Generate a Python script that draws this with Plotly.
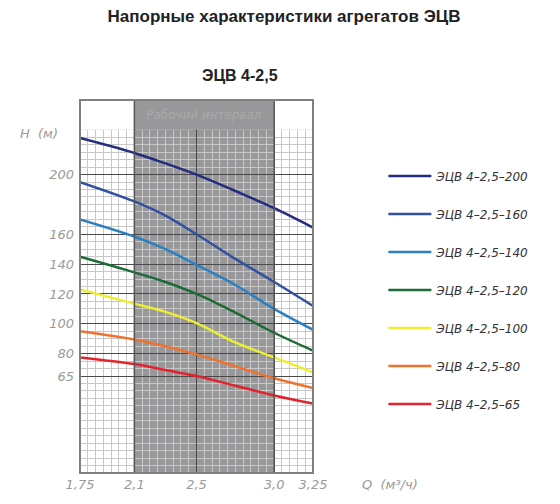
# -*- coding: utf-8 -*-
import plotly.graph_objs as go

# Подача, м3/ч
q = [1.75, 2.1, 2.3, 2.5, 2.75, 3.0, 3.25]

# Напор, м
h200 = [224.5, 214.5, 207.5, 200, 189, 177.5, 164.5]
h160 = [195, 182, 172.5, 160, 143.5, 128, 112]
h140 = [170, 158.5, 150, 139.5, 126, 110, 96]
h120 = [145, 134.5, 128, 120, 107.5, 94, 82]
h100 = [123, 113.5, 108, 100.5, 87.5, 77.5, 67.5]
h80 = [95, 89.5, 85, 79.5, 71.5, 63.5, 57]
h65 = [77.5, 73, 69, 65, 58.5, 52, 46.5]

nazvanija = ["ЭЦВ 4–2,5–200", "ЭЦВ 4–2,5–160", "ЭЦВ 4–2,5–140", "ЭЦВ 4–2,5–120",
             "ЭЦВ 4–2,5–100", "ЭЦВ 4–2,5–80", "ЭЦВ 4–2,5–65"]
krivye = [h200, h160, h140, h120, h100, h80, h65]
cveta = ["#232c7e", "#3050a0", "#2b80c4", "#1b6b36", "#eeee30", "#f07230", "#e2232b"]

x_tiki = [1.75, 2.1, 2.5, 3.0, 3.25]
x_podpisi = ["1,75", "2,1", "2,5", "3,0", "3,25"]
y_tiki = [65, 80, 100, 120, 140, 160, 200]

interval = [2.1, 3.0]   # рабочий интервал
setka_verh = 230
y_max = 250

seryj = "#98989a"
font_it = dict(family="DejaVu Sans", size=13, color="#9a9a9a", style="italic")

data = []
for i in range(len(krivye)):
    data.append(go.Scatter(x=q, y=krivye[i], name=nazvanija[i], mode="lines",
                           line=dict(color=cveta[i], width=2.5, shape="spline"),
                           legendgroup=str(i)))

fig = go.Figure(data=data)

# Серая полоса рабочего интервала (под сеткой)
fig.add_shape(type="rect", xref="x", yref="y", x0=interval[0], x1=interval[1], y0=0, y1=y_max,
              fillcolor=seryj, line=dict(width=0), layer="below")

# Верхняя полоса без сетки
fig.add_shape(type="rect", xref="x", yref="y", x0=x_tiki[0], x1=interval[0], y0=setka_verh, y1=y_max,
              fillcolor="white", line=dict(width=0), layer="above")
fig.add_shape(type="rect", xref="x", yref="y", x0=interval[1], x1=x_tiki[-1], y0=setka_verh, y1=y_max,
              fillcolor="white", line=dict(width=0), layer="above")
fig.add_shape(type="rect", xref="x", yref="y", x0=interval[0], x1=interval[1], y0=setka_verh, y1=y_max,
              fillcolor=seryj, line=dict(width=0), layer="above")
for xv in interval:
    fig.add_shape(type="line", xref="x", yref="y", x0=xv, x1=xv, y0=0, y1=y_max,
                  line=dict(color="#555555", width=1.5), layer="above")

# Рамка
fig.add_shape(type="rect", xref="paper", yref="paper", x0=0, x1=1, y0=0, y1=1,
              line=dict(color="#808080", width=2), layer="above")

fig.add_annotation(x=(interval[0] + interval[1]) / 2, y=(setka_verh + y_max) / 2, xref="x", yref="y",
                   text="Рабочий интервал", showarrow=False,
                   font=dict(family="DejaVu Sans", size=12, color="#a9a9a9", style="italic"))
fig.add_annotation(x=-0.085, y=227.5, xref="paper", yref="y", text="H  (м)", showarrow=False,
                   xanchor="right", font=font_it)
fig.add_annotation(x=1.2, y=0, xref="paper", yref="paper", yshift=-11, text="Q  (м³/ч)",
                   showarrow=False, xanchor="left", yanchor="middle", font=font_it)
fig.add_annotation(x=0.86, y=1.065, xref="paper", yref="paper", text="<b>ЭЦВ 4-2,5</b>",
                   showarrow=False, yanchor="middle",
                   font=dict(family="Liberation Sans", size=16, color="#222222"))

fig.update_layout(
    width=552, height=496,
    margin=dict(l=72, r=247, t=92, b=17),
    paper_bgcolor="white", plot_bgcolor="white",
    title=dict(text="<b>Напорные характеристики агрегатов ЭЦВ</b>", x=0.5, xanchor="center",
               y=0.984, yanchor="middle",
               font=dict(family="Liberation Sans", size=17, color="#222222")),
    legend=dict(x=1.302, y=0.835, xanchor="left", yanchor="top", traceorder="grouped",
                tracegroupgap=19, itemwidth=43,
                font=dict(family="DejaVu Sans", size=12, color="#333333", style="italic")),
    xaxis=dict(range=[x_tiki[0], x_tiki[-1]], tickmode="array", tickvals=x_tiki, ticktext=x_podpisi,
               showgrid=True, gridcolor="#4a4a4a", gridwidth=1.2, zeroline=False,
               tickfont=font_it, ticks="", ticklabelstandoff=2,
               minor=dict(tick0=1.75, dtick=0.05, showgrid=True, gridcolor="#c8c8c8", gridwidth=1)),
    yaxis=dict(range=[0, y_max], tickmode="array", tickvals=y_tiki,
               showgrid=True, gridcolor="#4a4a4a", gridwidth=1.2, zeroline=False,
               tickfont=font_it, ticks="", ticklabelstandoff=5,
               minor=dict(tick0=0, dtick=5, showgrid=True, gridcolor="#c8c8c8", gridwidth=1)),
)

fig.write_html("out.html")
